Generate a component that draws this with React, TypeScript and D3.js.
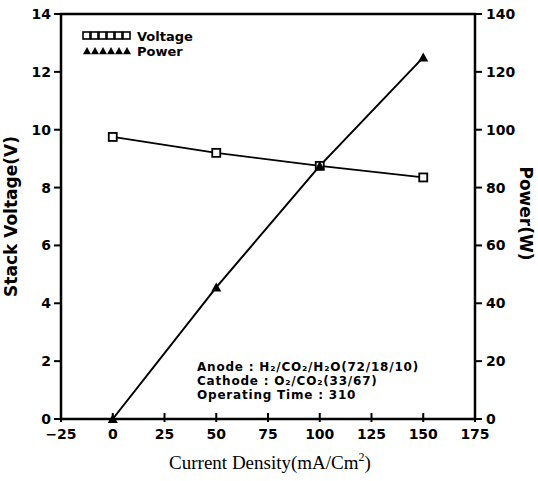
import React from "react";
import * as d3 from "d3";

// values
const density = [0, 50, 100, 150];
const voltage = [9.75, 9.2, 8.75, 8.35];
const power = [0, 45.5, 87.5, 125];
const xTicks = [-25, 0, 25, 50, 75, 100, 125, 150, 175];
const vTicks = [0, 2, 4, 6, 8, 10, 12, 14];
const pTicks = [0, 20, 40, 60, 80, 100, 120, 140];
const notes = [
  "Anode : H\u2082/CO\u2082/H\u2082O(72/18/10)",
  "Cathode : O\u2082/CO\u2082(33/67)",
  "Operating Time : 310",
];

const W = 538, H = 481;
const m = { left: 61, right: 63, top: 14, bottom: 62 };
const bold = "'DejaVu Sans', sans-serif";

export default function App() {
  const x = d3.scaleLinear().domain([-25, 175]).range([m.left, W - m.right]);
  const yv = d3.scaleLinear().domain([0, 14]).range([H - m.bottom, m.top]);
  const yp = d3.scaleLinear().domain([0, 140]).range([H - m.bottom, m.top]);
  const vLine = d3.line<number>().x((_, i) => x(density[i])).y((d) => yv(d));
  const pLine = d3.line<number>().x((_, i) => x(density[i])).y((d) => yp(d));
  const x0 = m.left, x1 = W - m.right, y0 = H - m.bottom, y1 = m.top;
  const tri = (cx: number, cy: number, s = 5) =>
    `M${cx},${cy - s}L${cx + s},${cy + s * 0.8}L${cx - s},${cy + s * 0.8}Z`;

  return (
    <svg width={W} height={H} style={{ position: "absolute", left: 0, top: 0, background: "#fff" }}>
      <g stroke="#000" strokeWidth={2.5} fill="none">
        <rect x={x0} y={y1} width={x1 - x0} height={y0 - y1} />
      </g>
      {/* x ticks */}
      {xTicks.map((t) => (
        <g key={"x" + t}>
          <line x1={x(t)} x2={x(t)} y1={y0 - 6} y2={y0 + 3} stroke="#000" strokeWidth={2} />
          <text x={x(t)} y={y0 + 20} textAnchor="middle" fontFamily={bold} fontWeight="bold" fontSize={14}>
            {t < 0 ? "\u2212" + Math.abs(t) : t}
          </text>
        </g>
      ))}
      {vTicks.map((t) => (
        <g key={"v" + t}>
          <line x1={x0 - 7} x2={x0} y1={yv(t)} y2={yv(t)} stroke="#000" strokeWidth={2} />
          <text x={x0 - 10} y={yv(t) + 5} textAnchor="end" fontFamily={bold} fontWeight="bold" fontSize={14}>
            {t}
          </text>
        </g>
      ))}
      {pTicks.map((t) => (
        <g key={"p" + t}>
          <line x1={x1} x2={x1 + 7} y1={yp(t)} y2={yp(t)} stroke="#000" strokeWidth={2} />
          <text x={x1 + 11} y={yp(t) + 5} fontFamily={bold} fontWeight="bold" fontSize={14}>
            {t}
          </text>
        </g>
      ))}
      {/* series */}
      <path d={vLine(voltage) || ""} fill="none" stroke="#000" strokeWidth={1.8} />
      <path d={pLine(power) || ""} fill="none" stroke="#000" strokeWidth={2} />
      {voltage.map((v, i) => (
        <rect key={"vs" + i} x={x(density[i]) - 4} y={yv(v) - 4} width={8} height={8}
          fill="#fff" stroke="#000" strokeWidth={1.8} />
      ))}
      {power.map((p, i) => (
        <path key={"ps" + i} d={tri(x(density[i]), yp(p))} fill="#000" />
      ))}
      {/* legend */}
      <g>
        {[0, 1, 2, 3, 4, 5].map((k) => (
          <rect key={"lv" + k} x={83 + k * 8} y={32} width={7} height={7} fill="#fff" stroke="#000" strokeWidth={1.6} />
        ))}
        <text x={137} y={41} fontFamily={bold} fontWeight="bold" fontSize={13}>Voltage</text>
        {[0, 1, 2, 3, 4, 5].map((k) => (
          <path key={"lp" + k} d={tri(87 + k * 8, 51, 4)} fill="#000" />
        ))}
        <text x={137} y={56} fontFamily={bold} fontWeight="bold" fontSize={13}>Power</text>
      </g>
      {/* annotation */}
      {notes.map((s, li) => (
        <text key={"n" + li} x={197} y={371 + li * 14} fontFamily={bold} fontWeight="bold"
          fontSize={12} letterSpacing={0.8}>
          {s}
        </text>
      ))}
      {/* axis titles */}
      <text x={(x0 + x1) / 2 + 2} y={H - 12} textAnchor="middle" fontFamily="'Liberation Serif', serif" fontSize={19}>
        Current Density(mA/Cm<tspan fontSize={12} dy={-8}>2</tspan><tspan dy={8}>)</tspan>
      </text>
      <text transform={`translate(17,${(y0 + y1) / 2}) rotate(-90)`} textAnchor="middle"
        fontFamily={bold} fontWeight="bold" fontSize={17}>
        Stack Voltage(V)
      </text>
      <text transform={`translate(520,${(y0 + y1) / 2 - 3}) rotate(90)`} textAnchor="middle"
        fontFamily={bold} fontWeight="bold" fontSize={17}>
        Power(W)
      </text>
    </svg>
  );
}
